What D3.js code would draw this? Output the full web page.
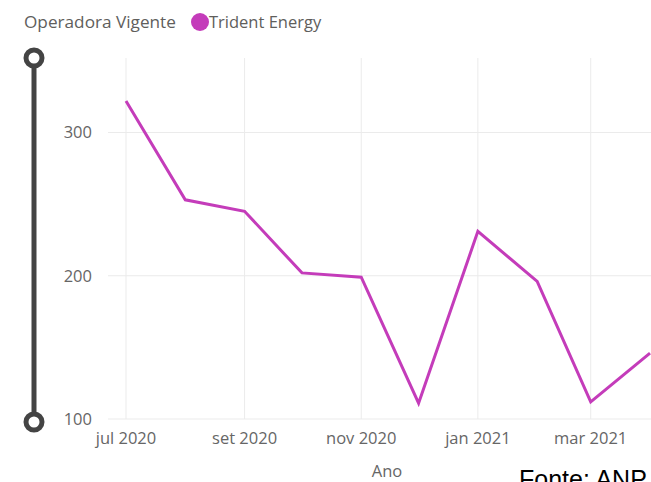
<!DOCTYPE html>
<html>
<head>
<meta charset="utf-8">
<script src="https://cdn.jsdelivr.net/npm/d3@7"></script>
<style>
  body { margin: 0; background: #fff; overflow: hidden; }
  text { font-family: "Segoe UI", "Open Sans", sans-serif; }
</style>
</head>
<body>
<div id="vis"></div>
<script>
// data
var months = ["2020-07-01","2020-08-01","2020-09-01","2020-10-01","2020-11-01","2020-12-01",
              "2021-01-01","2021-02-01","2021-03-01","2021-04-01"];
var values = [322, 253, 245, 202, 199, 111, 231, 196, 112, 146];
var yTicks = [100, 200, 300];
var xTickDates = ["2020-07-01","2020-09-01","2020-11-01","2021-01-01","2021-03-01"];
var xTickLabels = ["jul 2020","set 2020","nov 2020","jan 2021","mar 2021"];
var seriesName = "Trident Energy";
var legendTitle = "Operadora Vigente";
var lineColor = "#C43CBA";

var parse = d3.timeParse("%Y-%m-%d");
var W = 651, H = 482;

var svg = d3.select("#vis").append("svg").attr("width", W).attr("height", H);

var x = d3.scaleTime().domain([parse(months[0]), parse(months[months.length - 1])]).range([126, 650]);
var y = d3.scaleLinear().domain([100, 352]).range([419, 58]);

// gridlines
svg.append("g").selectAll("line").data(xTickDates).enter().append("line")
    .attr("x1", function(d){ return x(parse(d)); })
    .attr("x2", function(d){ return x(parse(d)); })
    .attr("y1", y(352)).attr("y2", y(100))
    .attr("stroke", "#ebebeb").attr("stroke-width", 1);

svg.append("g").selectAll("line").data(yTicks).enter().append("line")
    .attr("x1", 108).attr("x2", W)
    .attr("y1", function(d){ return y(d); })
    .attr("y2", function(d){ return y(d); })
    .attr("stroke", "#ebebeb").attr("stroke-width", 1);

// y labels
svg.append("g").selectAll("text").data(yTicks).enter().append("text")
    .attr("x", 92).attr("y", function(d){ return y(d) + 6; })
    .attr("text-anchor", "end").attr("font-size", 16.5).attr("fill", "#666")
    .text(function(d){ return d; });

// x labels
svg.append("g").selectAll("text").data(xTickDates).enter().append("text")
    .attr("x", function(d){ return x(parse(d)); }).attr("y", 444)
    .attr("text-anchor", "middle").attr("font-size", 16.5).attr("fill", "#666")
    .text(function(d, i){ return xTickLabels[i]; });

svg.append("text").attr("x", 387).attr("y", 477).attr("text-anchor", "middle")
    .attr("font-size", 16.5).attr("fill", "#666").text("Ano");

// the line
var line = d3.line()
    .x(function(d, i){ return x(parse(months[i])); })
    .y(function(d){ return y(d); });

svg.append("path").datum(values)
    .attr("d", line).attr("fill", "none")
    .attr("stroke", lineColor).attr("stroke-width", 3)
    .attr("stroke-linejoin", "miter");

// slider
svg.append("line").attr("x1", 34).attr("x2", 34).attr("y1", 58).attr("y2", 422)
    .attr("stroke", "#444").attr("stroke-width", 5);
svg.selectAll("circle.knob").data([58, 422]).enter().append("circle")
    .attr("class", "knob").attr("cx", 34).attr("cy", function(d){ return d; })
    .attr("r", 8).attr("fill", "#fff").attr("stroke", "#444").attr("stroke-width", 5);

// legend
svg.append("text").attr("x", 24).attr("y", 28).attr("font-size", 17.2).attr("fill", "#605E5C").text(legendTitle);
svg.append("circle").attr("cx", 200).attr("cy", 22).attr("r", 9).attr("fill", lineColor);
svg.append("text").attr("x", 209).attr("y", 28).attr("font-size", 16.5).attr("fill", "#605E5C").text(seriesName);

// source note
svg.append("text").attr("x", 519).attr("y", 488).attr("font-size", 25)
    .attr("fill", "#000").style("font-family", "Arial, 'Liberation Sans', sans-serif").text("Fonte: ANP");
</script>
</body>
</html>
